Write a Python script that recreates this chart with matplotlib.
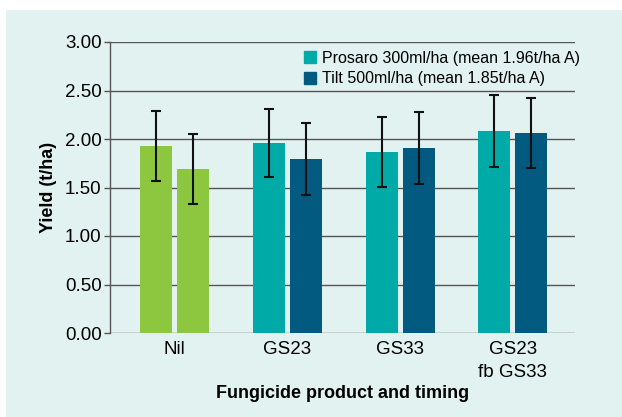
import matplotlib.pyplot as plt
import numpy as np
from matplotlib.patches import Rectangle
from matplotlib.lines import Line2D

plt.rcParams['font.family'] = ['Liberation Sans', 'DejaVu Sans']

# data
categories = ['Nil', 'GS23', 'GS33', 'GS23\nfb GS33']
prosaro = [1.93, 1.96, 1.87, 2.08]
tilt = [1.69, 1.79, 1.91, 2.06]
prosaro_err = [0.36, 0.35, 0.36, 0.37]
tilt_err = [0.36, 0.37, 0.37, 0.36]
labels = ['Prosaro 300ml/ha (mean 1.96t/ha A)', 'Tilt 500ml/ha (mean 1.85t/ha A)']

# colours
bg = '#e2f2f0'
green = '#8dc63f'
teal = '#00aaa6'
blue = '#035a80'

fig = plt.figure(figsize=(6.22, 4.17), dpi=100)
fig.patch.set_facecolor('white')
fig.patches.append(Rectangle((6 / 622, 0), 1, 1 - 10 / 417, transform=fig.transFigure,
                             facecolor=bg, edgecolor='none', zorder=-10))
ax = fig.add_axes([110 / 622, 1 - 333 / 417, 465 / 622, 291 / 417])
ax.set_facecolor(bg)

x = np.arange(len(categories))
w = 0.283
off = 0.164
c1 = [green] + [teal] * 3
c2 = [green] + [blue] * 3
ekw = dict(ecolor='#111111', elinewidth=1.5, capsize=3.5, capthick=1.5)
ax.bar(x - off, prosaro, w, color=c1, yerr=prosaro_err, error_kw=ekw, zorder=3)
ax.bar(x + off, tilt, w, color=c2, yerr=tilt_err, error_kw=ekw, zorder=3)

ax.set_ylim(0, 3)
ax.set_xlim(-0.57, 3.55)
ax.set_yticks(np.arange(0, 3.01, 0.5))
ax.set_yticklabels([f'{v:.2f}' for v in np.arange(0, 3.01, 0.5)], fontsize=13.5)
ax.set_xticks(x)
ax.set_xticklabels(categories, fontsize=13.5, linespacing=1.4)
ax.tick_params(axis='x', length=0, pad=6)
ax.tick_params(axis='y', length=4, width=1, color='#555555', pad=2)
ax.yaxis.grid(True, color='#555555', linewidth=1, zorder=0)
ax.set_axisbelow(True)
for s in ['top', 'right', 'bottom']:
    ax.spines[s].set_visible(False)
ax.spines['left'].set_color('#555555')
ax.spines['left'].set_linewidth(1)

ax.set_ylabel('Yield (t/ha)', fontsize=13, fontweight='bold', labelpad=6)
ax.set_xlabel('Fungicide product and timing', fontsize=13, fontweight='bold', labelpad=3)

handles = [Line2D([], [], marker='s', linestyle='none', markersize=9, color=teal),
           Line2D([], [], marker='s', linestyle='none', markersize=9, color=blue)]
ax.legend(handles, labels, loc='upper left', bbox_to_anchor=(0.388, 1.013), frameon=False,
          fontsize=11.5, handlelength=0.8, handletextpad=0.35, labelspacing=0.32,
          borderpad=0.3)

fig.savefig('out.png', dpi=100, facecolor=fig.get_facecolor())
